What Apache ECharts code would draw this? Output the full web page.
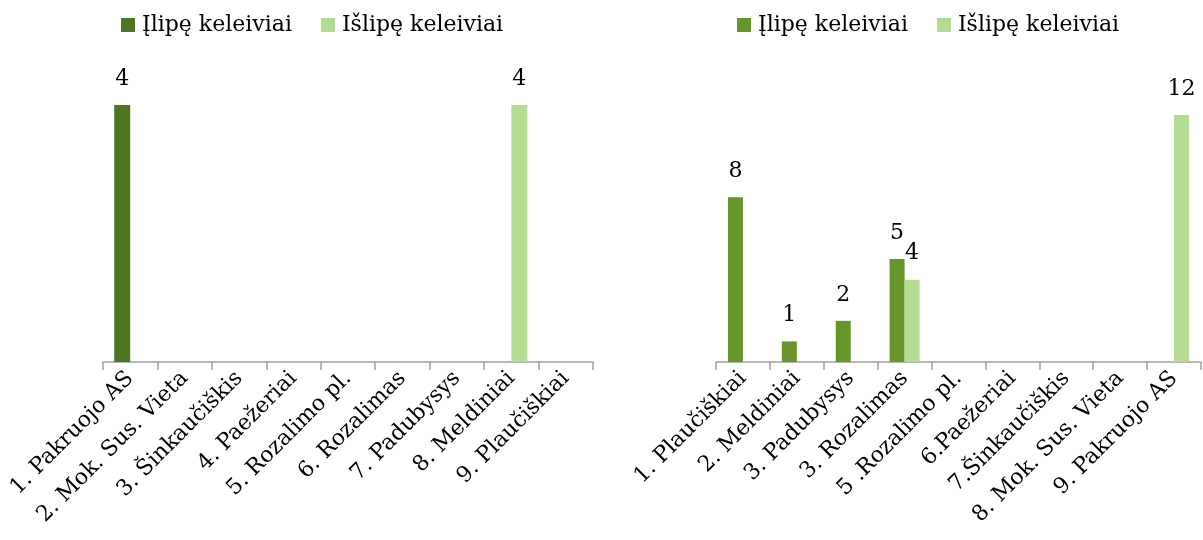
<!DOCTYPE html>
<html>
<head>
<meta charset="utf-8">
<script src="https://cdn.jsdelivr.net/npm/echarts@6/dist/echarts.min.js"></script>
<style>
html,body{margin:0;padding:0;background:#fff;}
#main{width:1203px;height:540px;}
</style>
</head>
<body>
<div id="main"></div>
<script>
const seriesNames = ['Įlipę keleiviai', 'Išlipę keleiviai'];

const leftCategories = ['1. Pakruojo AS', '2. Mok. Sus. Vieta', '3. Šinkaučiškis', '4. Paežeriai', '5. Rozalimo pl.', '6. Rozalimas', '7. Padubysys', '8. Meldiniai', '9. Plaučiškiai'];
const leftBoarded = [4, 0, 0, 0, 0, 0, 0, 0, 0];
const leftAlighted = [0, 0, 0, 0, 0, 0, 0, 4, 0];

const rightCategories = ['1. Plaučiškiai', '2. Meldiniai', '3. Padubysys', '3. Rozalimas', '5 .Rozalimo pl.', '6.Paežeriai', '7.Šinkaučiškis', '8. Mok. Sus. Vieta', '9. Pakruojo AS'];
const rightBoarded = [8, 1, 2, 5, 0, 0, 0, 0, 0];
const rightAlighted = [0, 0, 0, 4, 0, 0, 0, 0, 12];

const FONT = 'DejaVu Serif';
const FS = 22;

function xAxisCfg(gridIndex, cats) {
  return {
    type: 'category', gridIndex: gridIndex, data: cats,
    axisLine: { show: true, lineStyle: { color: '#a0a0a0', width: 1.5 } },
    axisTick: { show: true, length: 8, interval: 0, lineStyle: { color: '#a0a0a0', width: 1.5 } },
    axisLabel: { interval: 0, rotate: 45, margin: 13, color: '#000', fontFamily: FONT, fontSize: FS }
  };
}
function yAxisCfg(gridIndex, max) {
  return { type: 'value', gridIndex: gridIndex, min: 0, max: max, show: false, splitLine: { show: false } };
}
const labelCfg = {
  show: true, position: 'top', distance: 15, color: '#000', fontFamily: FONT, fontSize: FS,
  formatter: p => (p.value ? String(p.value) : '')
};
function bar(name, idx, data, color, width) {
  return {
    type: 'bar', name: name, xAxisIndex: idx, yAxisIndex: idx, data: data,
    barWidth: width, barGap: '0%', itemStyle: { color: color },
    label: labelCfg, legendHoverLink: false, animation: false
  };
}

const legendText = { fontFamily: FONT, fontSize: FS, color: '#000', padding: [0, 0, 0, 2] };

const chart = echarts.init(document.getElementById('main'));
chart.setOption({
  animation: false,
  legend: [
    {
      left: 116, top: 9, itemWidth: 14, itemHeight: 14, itemGap: 29,
      icon: 'rect', textStyle: legendText,
      data: [
        { name: 'L1', itemStyle: { color: '#4e7622' } },
        { name: 'L2', itemStyle: { color: '#b3dc92' } }
      ],
      formatter: n => (n === 'L1' ? seriesNames[0] : seriesNames[1]),
      selectedMode: false
    },
    {
      left: 732, top: 9, itemWidth: 14, itemHeight: 14, itemGap: 29,
      icon: 'rect', textStyle: legendText,
      data: [
        { name: 'R1', itemStyle: { color: '#66952a' } },
        { name: 'R2', itemStyle: { color: '#b3dc92' } }
      ],
      formatter: n => (n === 'R1' ? seriesNames[0] : seriesNames[1]),
      selectedMode: false
    }
  ],
  grid: [
    { left: 103, top: 105, width: 490, height: 257 },
    { left: 716, top: 115, width: 485, height: 247 }
  ],
  xAxis: [xAxisCfg(0, leftCategories), xAxisCfg(1, rightCategories)],
  yAxis: [yAxisCfg(0, 4), yAxisCfg(1, 12)],
  series: [
    bar('L1', 0, leftBoarded, '#4e7622', 16),
    bar('L2', 0, leftAlighted, '#b3dc92', 16),
    bar('R1', 1, rightBoarded, '#66952a', 15),
    bar('R2', 1, rightAlighted, '#b3dc92', 15)
  ]
});
</script>
</body>
</html>
